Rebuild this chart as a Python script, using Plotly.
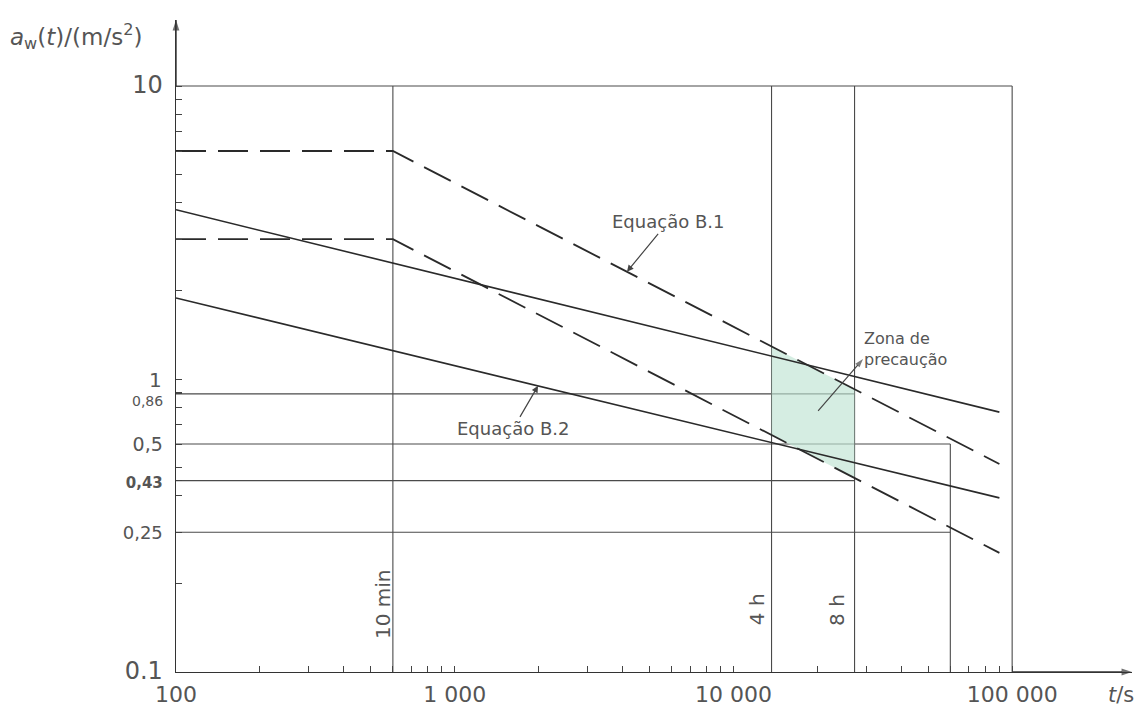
import numpy as np
import plotly.graph_objects as go

# ---------------- data ----------------
# Equação B.1 (dashed) : a_w * t^0.5 = const, flat before 10 min
t_dashed = [100, 600, 90000]
a_dashed_upper = [6.0, 6.0, 0.513]
a_dashed_lower = [3.0, 3.0, 0.255]
# Equação B.2 (solid) : a_w * t^0.25 = const
t_solid = [100, 90000]
a_solid_upper = [3.78, 0.771]
a_solid_lower = [1.89, 0.393]

# vertical reference lines (time marks) and their upper end
mark_t = [600, 13700, 27200, 60000, 100000]
mark_top = [10, 10, 10, 0.6, 10]
mark_labels = ["10 min", "4 h", "8 h"]

# horizontal reference lines (levels) and where they end
level_a = [10, 0.89, 0.6, 0.45, 0.3]
level_end = [100000, 27200, 60000, 27200, 60000]

# caution zone between 4 h and 8 h
zone_t = [13700, 27200]

# tick labels
x_major = [100, 1000, 10000, 100000]
x_major_text = ["100", "1 000", "10 000", "100 000"]
x_minor = [m * d for d in (100, 1000, 10000) for m in range(2, 10)]
y_label_vals = [0.1, 0.3, 0.45, 0.6, 10]
y_label_text = ["0.1", "0,25", "0,43", "0,5", "10"]
y_label_size = [24, 18, 15, 19, 24]
y_small_vals = [1, 0.89]          # labels drawn next to their lines
y_small_text = ["1", "0,86"]
y_minor = [m * d for d in (0.1, 1) for m in range(2, 10)]

# ---------------- helpers ----------------
X0, Y0 = 100, 0.1
X_END, Y_END = 10 ** 5.43, 10 ** 1.2253
FONT = "DejaVu Sans"
INK = "#2a2a2a"
GRID = "#4a4a4a"
TXT = "#555555"


def loglog(t, ts, vals):
    return 10 ** np.interp(np.log10(t), np.log10(ts), np.log10(vals))


fig = go.Figure()

# horizontal reference lines
hx, hy = [], []
for a, e in zip(level_a, level_end):
    hx += [X0, e, None]
    hy += [a, a, None]
fig.add_trace(go.Scatter(x=hx, y=hy, mode="lines",
                         line=dict(color=GRID, width=1.1), hoverinfo="skip"))

# vertical reference lines
vx, vy = [], []
for t, top in zip(mark_t, mark_top):
    vx += [t, t, None]
    vy += [Y0, top, None]
fig.add_trace(go.Scatter(x=vx, y=vy, mode="lines",
                         line=dict(color=GRID, width=1.1), hoverinfo="skip"))

# caution zone (between dashed lines, 4 h .. 8 h)
zu = loglog(zone_t, t_dashed, a_dashed_upper)
zl = loglog(zone_t, t_dashed, a_dashed_lower)
fig.add_trace(go.Scatter(
    x=[zone_t[0], zone_t[1], zone_t[1], zone_t[0], zone_t[0]],
    y=[zu[0], zu[1], zl[1], zl[0], zu[0]],
    mode="lines", fill="toself", fillcolor="rgba(190,228,210,0.65)",
    line=dict(width=0), hoverinfo="skip"))

# curves
for ys in (a_dashed_upper, a_dashed_lower):
    fig.add_trace(go.Scatter(x=t_dashed, y=ys, mode="lines",
                             line=dict(color=INK, width=1.8, dash="30px,12px"),
                             hoverinfo="skip"))
for ys in (a_solid_upper, a_solid_lower):
    fig.add_trace(go.Scatter(x=t_solid, y=ys, mode="lines",
                             line=dict(color=INK, width=1.6), hoverinfo="skip"))


def arrow_trace(xs, ys, color, width, size):
    return go.Scatter(x=xs, y=ys, mode="lines+markers", cliponaxis=False,
                      line=dict(color=color, width=width),
                      marker=dict(symbol="arrow", angleref="previous",
                                  size=[0, size], color=color,
                                  line=dict(width=0)),
                      hoverinfo="skip")


# axis arrow heads
fig.add_trace(arrow_trace([X0, X0], [10, Y_END], "#333", 1.4, 11))
fig.add_trace(arrow_trace([100000, X_END], [Y0, Y0], "#333", 1.4, 11))
# arrow pointing to the caution zone label
fig.add_trace(arrow_trace([20130, 29170], [0.778, 1.17], "#444", 1.2, 9))

L = np.log10
ann = []
# axis title and unit (paper coordinates)
ann.append(dict(x=-0.1757, y=0.975, xref="paper", yref="paper",
                xanchor="left", yanchor="middle",
                text="<i>a</i><sub>w</sub>(<i>t</i>)/(m/s<sup>2</sup>)",
                showarrow=False, font=dict(family=FONT, size=23, color=TXT)))
ann.append(dict(x=0.988, y=-0.036, xref="paper", yref="paper",
                xanchor="center", yanchor="middle",
                text="<i>t</i>/s", showarrow=False,
                font=dict(family=FONT, size=21, color=TXT)))

# small y labels "1" and "0,86"
ann.append(dict(x=-0.013, y=L(y_small_vals[0]), xref="paper", yref="y",
                xanchor="right", yanchor="middle", yshift=-1,
                text=y_small_text[0], showarrow=False,
                font=dict(family=FONT, size=20, color=TXT)))
ann.append(dict(x=-0.012, y=L(y_small_vals[1]), xref="paper", yref="y",
                xanchor="right", yanchor="middle", yshift=-7,
                text=y_small_text[1], showarrow=False,
                font=dict(family=FONT, size=14, color=TXT)))

# equation labels with arrows pointing at their lines
tb1 = 4150
ann.append(dict(x=L(tb1), y=L(float(loglog(tb1, t_dashed, a_dashed_upper))),
                xref="x", yref="y", ax=41, ay=-50, text="Equação B.1",
                showarrow=True, arrowhead=2, arrowsize=1.1, arrowwidth=1.2,
                arrowcolor="#444", font=dict(family=FONT, size=18, color=TXT)))
tb2 = 1990
ann.append(dict(x=L(tb2), y=L(float(loglog(tb2, t_solid, a_solid_lower))),
                xref="x", yref="y", ax=-25, ay=43, text="Equação B.2",
                showarrow=True, arrowhead=2, arrowsize=1.1, arrowwidth=1.2,
                arrowcolor="#444", font=dict(family=FONT, size=18, color=TXT)))
ann.append(dict(x=L(41300), y=L(1.266), xref="x", yref="y",
                text="Zona de<br>precaução", align="left", showarrow=False,
                font=dict(family=FONT, size=16, color=TXT)))

# rotated time mark labels
for t_lab, x_lab, y_lab in zip(mark_labels, (553, 12160, 23540), (0.1706, 0.164, 0.163)):
    ann.append(dict(x=L(x_lab), y=L(y_lab), xref="x", yref="y", text=t_lab,
                    textangle=-90, showarrow=False,
                    font=dict(family=FONT, size=20, color=TXT)))

# tick setup
x_tickvals = x_major + x_minor
x_ticktext = x_major_text + [""] * len(x_minor)
y_vals, y_text = [], []
for v, s, sz in zip(y_label_vals, y_label_text, y_label_size):
    txt = f'<span style="font-size:{sz}px">{s}</span>'
    if s == "0,43":
        txt = f'<span style="font-size:{sz}px"><b>{s}</b></span>'
    y_vals.append(v)
    y_text.append(txt)
for v in y_minor + y_small_vals:
    if all(abs(v - u) > 1e-9 for u in y_vals):
        y_vals.append(v)
        y_text.append("")

fig.update_layout(
    width=1140, height=699,
    margin=dict(l=168, r=16, t=12, b=35, autoexpand=False),
    paper_bgcolor="white", plot_bgcolor="white",
    showlegend=False,
    font=dict(family=FONT, color=TXT),
    annotations=ann,
    xaxis=dict(type="log", range=[2, 5.43], showgrid=False, zeroline=False,
               automargin=False,
               showline=True, linecolor="#333", linewidth=1.4,
               tickmode="array", tickvals=x_tickvals, ticktext=x_ticktext,
               ticks="inside", ticklen=6, tickcolor="#444", tickwidth=1,
               tickfont=dict(family=FONT, size=22, color=TXT),
               ticklabelstandoff=2),
    yaxis=dict(type="log", range=[-1, 1.2253], showgrid=False, zeroline=False,
               automargin=False,
               showline=True, linecolor="#333", linewidth=1.4,
               tickmode="array", tickvals=y_vals, ticktext=y_text,
               ticks="inside", ticklen=6, tickcolor="#444", tickwidth=1,
               tickfont=dict(family=FONT, size=20, color=TXT),
               ticklabelstandoff=8),
)

fig.write_html("out.html")
